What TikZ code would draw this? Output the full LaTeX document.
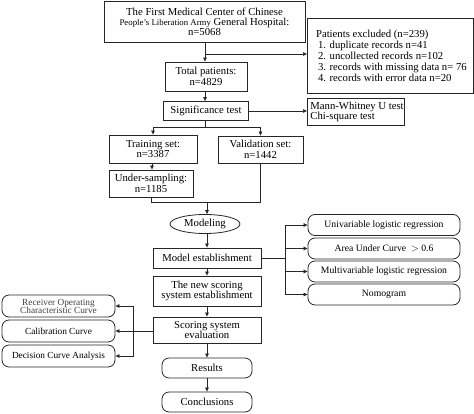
\documentclass[tikz,border=0pt]{standalone}
\usepackage{fontspec}
\setmainfont{Liberation Serif}
\usetikzlibrary{arrows.meta,shapes.geometric}
\begin{document}
\begin{tikzpicture}[x=1pt,y=-1pt,
  font=\fontsize{10.7}{12.5}\selectfont,
  sq/.style={draw=black!85,line width=0.8pt,inner sep=1pt,align=center},
  rbox/.style={draw=black!85,line width=0.8pt,rounded corners=7pt,inner sep=1pt,align=center,font=\fontsize{9.7}{11}\selectfont},
  lbox/.style={draw=black!85,line width=0.8pt,rounded corners=7pt,inner sep=1pt,align=center,font=\fontsize{9.3}{10.5}\selectfont},
  ln/.style={draw=black!85,line width=0.7pt},
  arr/.style={ln,-{Triangle[length=4pt,width=3.5pt]}}]
\useasboundingbox (0,0) rectangle (474,414);

\node[sq,minimum width=201pt,minimum height=41pt] (top) at (204.5,21.5)
  {The First Medical Center of Chinese\\[-2.5pt]
   {\fontsize{8.8}{10}\selectfont People's Liberation Army} General Hospital:\\[-2.5pt]
   n=5068};
\node[sq,minimum width=166pt,minimum height=75pt,align=left,anchor=west] (excl) at (307,55.5)
  {\hspace{2pt}Patients excluded (n=239)\\[-1.5pt]
   \hspace{4pt}1. duplicate records n=41\\[-1.5pt]
   \hspace{4pt}2. uncollected records n=102\\[-1.5pt]
   \hspace{4pt}3. records with missing data n= 76\\[-1.5pt]
   \hspace{4pt}4. records with error data n=20};
\node[sq,minimum width=82pt,minimum height=29pt] (tot) at (206,76.5) {Total patients:\\[-1.5pt] n=4829};
\node[sq,minimum width=85pt,minimum height=19pt] (sig) at (206,111) {Significance test};
\node[sq,minimum width=93pt,minimum height=27pt,align=left,anchor=west] (mw) at (307,111.5)
  {\hspace{2pt}Mann-Whitney U test\\[-2.5pt] \hspace{2pt}Chi-square test};
\node[sq,minimum width=88pt,minimum height=28pt] (train) at (153,149) {Training set:\\[-2pt] n=3387};
\node[sq,minimum width=85pt,minimum height=27pt] (val) at (260.5,149.5) {Validation set:\\[-2pt] n=1442};
\node[sq,minimum width=84pt,minimum height=27pt] (under) at (151,183.5) {Under-sampling:\\[-2pt] n=1185};
\node[ellipse,draw=black!85,line width=0.8pt,minimum width=70pt,minimum height=19pt,inner sep=0pt] (mod) at (205,224) {Modeling};
\node[sq,minimum width=108pt,minimum height=20pt] (model) at (207,258) {Model establishment};
\node[sq,minimum width=108pt,minimum height=30pt] (newsc) at (207,291) {The new scoring\\[-2.5pt] system establishment};
\node[sq,minimum width=108pt,minimum height=26pt] (eval) at (207,330) {Scoring system\\[-2.5pt] evaluation};
\node[rbox,minimum width=90pt,minimum height=20pt,font=\fontsize{10.7}{12}\selectfont] (res) at (207,368) {Results};
\node[rbox,minimum width=90pt,minimum height=20pt,font=\fontsize{10.7}{12}\selectfont] (conc) at (207,402) {Conclusions};

\node[rbox,minimum width=152pt,minimum height=21pt] (uni) at (384,225) {Univariable logistic regression};
\node[rbox,minimum width=152pt,minimum height=21pt] (auc) at (384,248.5) {Area Under Curve\ \ $>$ 0.6};
\node[rbox,minimum width=152pt,minimum height=21pt] (multi) at (384,271.5) {Multivariable logistic regression};
\node[rbox,minimum width=152pt,minimum height=21pt] (nomo) at (384,294.5) {Nomogram};

\node[lbox,minimum width=113pt,minimum height=22pt,text=black!75] (roc) at (58.5,306) {Receiver Operating\\[-2.5pt] Characteristic Curve};
\node[lbox,minimum width=113pt,minimum height=22pt] (cal) at (58.5,331) {Calibration Curve};
\node[lbox,minimum width=113pt,minimum height=22pt] (dca) at (58.5,356) {Decision Curve Analysis};

% connectors
\coordinate (b1) at (205,54);
\draw[arr] (top.south -| b1) -- (tot.north -| b1);
\draw[arr] (b1) -- (b1 -| excl.west);
\draw[arr] (tot.south -| b1) -- (sig.north -| b1);
\draw[arr] (sig.east) -- (sig.east -| mw.west);
\coordinate (s1) at (205,127);
\draw[ln] (sig.south -| s1) -- (s1);
\draw[arr] (s1) -| (train.north);
\draw[arr] (s1) -| (val.north);
\draw[arr] (train.south -| 152,0) -- (under.north -| 152,0);
\coordinate (m1) at (207,202);
\draw[ln] (under.south) |- (m1);
\draw[ln] (val.south) |- (m1);
\draw[arr] (m1) -- (mod.north -| m1);
\draw[arr] (mod.south -| m1) -- (model.north -| m1);
\coordinate (r1) at (285,258);
\draw[ln] (model.east) -- (r1);
\draw[arr] (r1) |- (uni.west);
\draw[arr] (r1) |- (auc.west);
\draw[arr] (r1) |- (multi.west);
\draw[arr] (r1) |- (nomo.west);
\draw[arr] (model.south) -- (newsc.north);
\draw[arr] (newsc.south) -- (eval.north);
\coordinate (l1) at (133,331);
\draw[ln] (eval.west |- l1) -- (l1);
\draw[arr] (l1) |- (roc.east);
\draw[arr] (l1) -- (cal.east);
\draw[arr] (l1) |- (dca.east);
\draw[arr] (eval.south) -- (res.north);
\draw[arr] (res.south) -- (conc.north);
\end{tikzpicture}
\end{document}
